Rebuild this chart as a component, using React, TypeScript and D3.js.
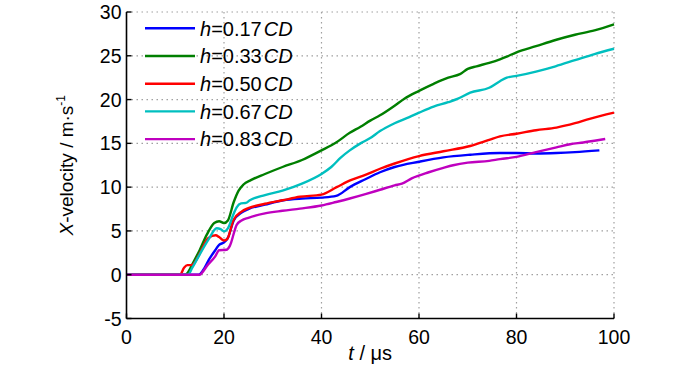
import React from "react";
import * as d3 from "d3";

const labels = ["0.17", "0.33", "0.50", "0.67", "0.83"];
const colors = ["#0000ff", "#007f00", "#ff0000", "#00bfbf", "#bf00bf"];
const xTicks = [0, 20, 40, 60, 80, 100];
const yTicks = [-5, 0, 5, 10, 15, 20, 25, 30];

const blue: [number, number][] = [[0,0],[14.8,0],[15.7,0.5],[17,1.8],[18.2,2.8],[19,3.4],[20,3.7],[20.8,4.2],[22,6.2],[23.6,7.1],[25,7.5],[28.4,8.0],[32.2,8.5],[36,8.7],[40,8.8],[43,9.0],[45.8,10.0],[49,10.9],[52,11.7],[55,12.3],[60,12.9],[65,13.4],[70.5,13.7],[76.6,13.9],[80,13.9],[84,13.85],[88.2,13.9],[92,14.0],[97,14.2]];
const green: [number, number][] = [[0,0],[12,0],[12.5,0.2],[13.5,1.2],[15,2.8],[16.5,4.6],[18,5.9],[19,6.1],[20,5.9],[20.8,6.2],[22,8.3],[23,9.6],[24,10.3],[25.5,10.8],[28.4,11.5],[32,12.3],[36,13.1],[40,14.2],[43,15.1],[45.8,16.2],[48,16.9],[50,17.6],[52,18.2],[55,19.3],[57,20.1],[60,21.0],[63,21.8],[66,22.5],[68.4,22.9],[70,23.5],[71.8,23.8],[74.4,24.2],[76.6,24.6],[78,24.9],[80,25.4],[84,26.1],[88,26.8],[92,27.4],[96,27.9],[100,28.6]];
const red: [number, number][] = [[0,0],[11,0],[11.8,0.8],[12.5,1.1],[13.3,1.1],[14,1.4],[15,2.4],[16.8,4.2],[18.3,4.5],[19,4.3],[20,3.9],[20.7,4.1],[21.9,6.2],[23.6,7.2],[25,7.6],[28.4,8.1],[32,8.5],[35.6,8.9],[40,9.15],[43.1,10.0],[46,10.8],[49,11.4],[52,12.1],[55,12.7],[60,13.55],[65,14.1],[70.5,14.7],[74.4,15.4],[76.6,15.8],[80,16.1],[84,16.5],[88.2,16.8],[92,17.3],[95,17.8],[100,18.5]];
const cyan: [number, number][] = [[0,0],[12.6,0],[13.5,0.8],[15,2.3],[16.8,4.0],[18.5,5.3],[19.3,5.2],[20,4.95],[20.8,5.3],[22,7.0],[22.6,7.7],[23.5,8.15],[24.5,8.2],[25.3,8.5],[28.4,9.1],[32,9.6],[36,10.4],[40,11.5],[42,12.3],[44,13.4],[45.8,14.2],[48,15.0],[50,15.6],[52,16.4],[55,17.3],[58,18.0],[60,18.5],[63,19.2],[66,19.7],[68,20.1],[70.5,20.8],[74.4,21.35],[76.6,22.1],[78,22.5],[80,22.7],[84,23.2],[88,23.8],[92,24.5],[96,25.2],[100,25.8]];
const magenta: [number, number][] = [[0,0],[15,0],[15.6,0.3],[16.5,1.0],[18.2,2.1],[19,2.8],[20.5,2.85],[21.2,3.3],[22.6,5.7],[23.6,6.2],[25,6.5],[28.4,7.0],[32,7.3],[35.6,7.55],[40,7.9],[43,8.3],[45.8,8.7],[49,9.2],[52,9.7],[55,10.2],[56.5,10.4],[58.5,11.0],[62,11.7],[65,12.2],[67,12.5],[70,12.8],[74.4,13.0],[76.6,13.2],[80,13.45],[84,14.0],[88.2,14.55],[91,14.9],[93.7,15.1],[96,15.3],[98.2,15.5]];

const series = [blue, green, red, cyan, magenta];

const W = 700, H = 375;
const L = 126.5, R = 614, T = 12, B = 318.5;

export default function App() {
  const x = d3.scaleLinear().domain([0, 100]).range([L, R]);
  const y = d3.scaleLinear().domain([-5, 30]).range([B, T]);
  const line = d3.line<[number, number]>().x(d => x(d[0])).y(d => y(d[1])).curve(d3.curveMonotoneX);
  const font = "Liberation Sans, Arial, sans-serif";
  return (
    <svg width={W} height={H} style={{ position: "absolute", left: 0, top: 0, background: "#fff" }} fontFamily={font}>
      {xTicks.filter(t => t > 0).map(t => (
        <line key={"gx" + t} x1={x(t)} x2={x(t)} y1={T} y2={B} stroke="#a0a0a0" strokeWidth={1.2} strokeDasharray="1.5,3.5" />
      ))}
      {yTicks.filter(t => t > -5).map(t => (
        <line key={"gy" + t} x1={L} x2={R} y1={y(t)} y2={y(t)} stroke="#a0a0a0" strokeWidth={1.2} strokeDasharray="1.5,3.5" />
      ))}
      {series.map((s, i) => (
        <path key={i} d={line(s) || ""} fill="none" stroke={colors[i]} strokeWidth={2.4} strokeLinejoin="round" />
      ))}
      <line x1={L} x2={L} y1={T} y2={B} stroke="#000" strokeWidth={1.6} />
      <line x1={L} x2={R} y1={B} y2={B} stroke="#000" strokeWidth={1.6} />
      {xTicks.map(t => (
        <g key={"xt" + t}>
          <line x1={x(t)} x2={x(t)} y1={B} y2={B - 5} stroke="#000" strokeWidth={1.4} />
          <text x={x(t)} y={B + 25} fontSize={19.5} textAnchor="middle" fill="#000">{t}</text>
        </g>
      ))}
      {yTicks.map(t => (
        <g key={"yt" + t}>
          <line x1={L} x2={L + 5} y1={y(t)} y2={y(t)} stroke="#000" strokeWidth={1.4} />
          <text x={L - 5} y={y(t)} dy="0.36em" fontSize={19.5} textAnchor="end" fill="#000">{t}</text>
        </g>
      ))}
      <text x={(L + R) / 2} y={360} fontSize={20} textAnchor="middle" fill="#000">
        <tspan fontStyle="italic">t</tspan> / μs
      </text>
      <text transform={`translate(73,${(T + B) / 2}) rotate(-90)`} fontSize={19} textAnchor="middle" fill="#000">
        <tspan fontStyle="italic">X</tspan>-velocity / m·s<tspan dy="-8" fontSize={12}>-1</tspan>
      </text>
      {labels.map((lab, i) => {
        const yy = 28.3 + i * 27.7;
        return (
          <g key={"lg" + i}>
            <line x1={145} x2={195} y1={yy} y2={yy} stroke={colors[i]} strokeWidth={2.4} />
            <text x={200} y={yy} dy="0.36em" fontSize={20} fill="#000">
              <tspan fontStyle="italic">h</tspan>={lab}<tspan dx="2" fontStyle="italic">CD</tspan>
            </text>
          </g>
        );
      })}
    </svg>
  );
}
